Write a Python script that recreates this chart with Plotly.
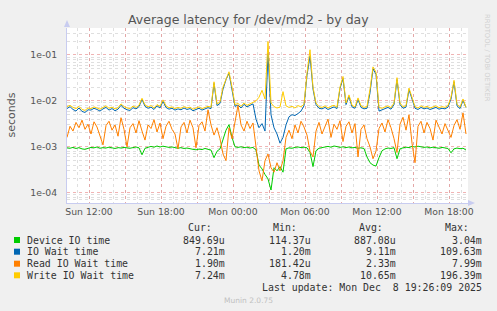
import plotly.graph_objects as go
from datetime import datetime, timedelta

# ---------------- data (milliseconds, 15-minute steps) ----------------
start_time = datetime(2025, 12, 7, 10, 10)
step_minutes = 15

device_ms = [
    0.95, 0.93, 0.97, 0.92, 0.96, 0.90, 0.88, 0.94, 0.97, 0.95,
    0.99, 0.93, 0.96, 0.94, 0.98, 0.95, 0.92, 0.96, 0.94, 0.97,
    0.95, 0.93, 0.96, 0.99, 0.95, 0.67, 0.93, 0.97, 1.02, 0.98,
    1.04, 0.99, 1.03, 1.00, 0.97, 0.99, 0.95, 0.93, 0.96, 0.92,
    0.94, 0.90, 0.88, 0.86, 0.89, 0.87, 0.92, 0.88, 0.85, 0.58,
    0.80, 0.90, 1.40, 2.30, 3.04, 1.60, 1.00, 0.97, 1.00, 0.96,
    0.98, 0.94, 0.97, 0.85, 0.40, 0.33, 0.25, 0.20, 0.11437, 0.35,
    0.30, 0.37, 0.28, 0.90, 0.95, 0.93, 0.97, 0.99, 0.96, 0.98,
    0.95, 0.75, 0.37, 0.82, 0.93, 0.96, 0.99, 1.02, 0.98, 1.04,
    1.01, 0.97, 1.00, 0.96, 0.99, 0.95, 0.97, 0.93, 0.95, 0.92,
    0.60, 0.45, 0.40, 0.38, 0.58, 0.82, 0.90, 0.94, 0.92, 0.96,
    0.55, 0.90, 0.95, 0.98, 0.96, 1.02, 0.99, 1.03, 1.00, 0.97,
    0.99, 0.95, 0.98, 0.96, 0.93, 0.97, 0.95, 0.92, 0.74, 0.90,
    0.94, 0.91, 0.93, 0.8497,
]

iowait_ms = [
    6.8, 7.5, 6.5, 6.0, 7.0, 5.9, 5.6, 6.4, 6.3, 6.9,
    6.5, 6.0, 6.7, 7.2, 6.3, 6.8, 6.1, 6.6, 8.0, 6.9,
    6.4, 6.2, 7.1, 6.7, 7.5, 10.8, 7.6, 6.9, 7.3, 6.5,
    7.8, 7.0, 9.8, 7.2, 6.6, 6.9, 6.3, 6.7, 6.4, 7.0,
    6.5, 6.8, 6.1, 6.5, 6.9, 6.3, 6.6, 7.1, 6.8, 24.0,
    7.9, 8.8, 18.0, 29.0, 40.0, 18.0, 7.6, 8.1, 7.0, 8.4,
    7.4, 8.0, 8.6, 4.0, 2.6, 3.2, 2.2, 109.63, 5.0, 2.6,
    1.9, 1.2, 1.6, 3.0, 4.5, 5.0, 4.8, 5.3, 6.0, 7.8,
    36.0, 95.0, 18.0, 8.3, 6.9, 6.7, 7.2, 6.5, 7.0, 7.4,
    6.8, 18.5, 31.0, 8.3, 12.5, 7.4, 6.9, 10.7, 7.2, 6.7,
    6.9, 15.0, 50.0, 38.0, 6.0, 6.4, 6.9, 7.2, 6.6, 8.3,
    29.0, 8.3, 6.9, 7.3, 17.5, 11.0, 6.9, 6.5, 7.2, 6.7,
    7.0, 6.5, 6.9, 7.2, 6.6, 6.9, 6.7, 7.3, 11.0, 26.0,
    7.8, 6.8, 10.2, 7.21,
]

read_ms = [
    1.6, 2.8, 2.2, 3.4, 2.6, 3.8, 2.4, 3.1, 1.9, 3.5,
    2.7, 1.8, 1.1, 2.9, 3.6, 2.3, 3.0, 1.7, 4.3, 2.4,
    1.0, 2.6, 3.2, 2.0, 3.7, 2.2, 1.4, 3.0, 2.5, 3.9,
    2.1, 3.3, 1.5, 2.8, 3.6, 2.4, 1.9, 0.9, 2.7, 3.4,
    2.0, 3.8, 2.6, 0.95, 2.9, 3.5, 2.2, 6.4, 3.0, 1.8,
    2.6, 1.5, 0.7, 0.5, 2.6, 1.5, 3.2, 7.99, 3.0, 2.2,
    3.6, 2.5, 3.3, 1.0, 0.3, 0.18142, 0.5, 0.7, 0.35, 0.28,
    0.45, 0.3, 0.5, 1.6, 2.3, 1.5, 3.0, 2.0, 3.6, 2.7,
    1.8, 0.8, 0.6, 2.2, 3.4, 1.9, 2.9, 4.0, 1.6, 3.1,
    2.4, 3.7, 1.3, 2.8, 3.5, 2.0, 3.2, 0.6, 2.4, 3.0,
    1.5, 1.0, 0.55, 0.8, 2.5, 3.3, 2.1, 3.9, 2.6, 1.5,
    0.75, 3.1, 4.4, 2.3, 5.0, 1.2, 0.45, 2.8, 3.6, 2.0,
    3.4, 2.5, 1.4, 3.8, 2.7, 1.9, 3.2, 2.3, 1.6, 2.9,
    3.9, 2.4, 5.5, 1.90,
]

write_ms = [
    7.5, 8.0, 7.2, 6.8, 7.6, 6.5, 6.2, 7.0, 6.8, 7.4,
    7.0, 6.6, 7.2, 7.8, 6.9, 7.3, 6.7, 7.1, 8.6, 7.5,
    7.0, 6.8, 7.7, 7.2, 8.0, 11.4, 8.2, 7.4, 7.9, 7.0,
    8.3, 7.6, 10.5, 7.8, 7.1, 7.4, 6.8, 7.2, 6.9, 7.5,
    7.0, 7.3, 6.6, 7.0, 7.4, 6.8, 7.1, 7.6, 7.3, 26.0,
    8.5, 9.5, 20.0, 31.0, 43.0, 20.0, 8.2, 8.8, 7.6, 9.0,
    8.0, 8.6, 9.3, 10.0, 12.0, 17.0, 11.0, 196.39, 9.0, 7.5,
    7.0, 7.3, 15.9, 7.8, 7.2, 7.6, 7.0, 7.9, 7.4, 8.5,
    40.0, 130.0, 20.0, 9.0, 7.5, 7.2, 7.8, 7.0, 7.6, 8.0,
    7.3, 20.0, 34.0, 9.0, 13.5, 8.0, 7.4, 11.6, 7.8, 7.2,
    7.5, 18.0, 55.0, 42.0, 7.2, 6.9, 7.4, 7.8, 7.1, 9.0,
    32.0, 9.0, 7.4, 7.9, 19.0, 12.0, 7.5, 7.0, 7.8, 7.2,
    7.6, 7.0, 7.4, 7.8, 7.1, 7.5, 7.2, 7.9, 12.0, 28.0,
    8.5, 7.3, 11.0, 7.24,
]

series_names = ["Device IO time", "IO Wait time", "Read IO Wait time", "Write IO Wait time"]
series_colors = ["#00CC00", "#0066B3", "#FF8000", "#FFCC00"]
series_data = [device_ms, iowait_ms, read_ms, write_ms]

legend_cur = ["849.69u", "7.21m", "1.90m", "7.24m"]
legend_min = ["114.37u", "1.20m", "181.42u", "4.78m"]
legend_avg = ["887.08u", "9.11m", "2.33m", "10.65m"]
legend_max = ["3.04m", "109.63m", "7.99m", "196.39m"]
column_headers = ["Cur:", "Min:", "Avg:", "Max:"]

y_tick_values = [1e-4, 1e-3, 1e-2, 1e-1]
y_tick_labels = ["1e-04", "1e-03", "1e-02", "1e-01"]

x_label_times = [datetime(2025, 12, 7, 12), datetime(2025, 12, 7, 18), datetime(2025, 12, 8, 0),
                 datetime(2025, 12, 8, 6), datetime(2025, 12, 8, 12), datetime(2025, 12, 8, 18)]
x_label_texts = ["Sun 12:00", "Sun 18:00", "Mon 00:00", "Mon 06:00", "Mon 12:00", "Mon 18:00"]

title_text = "Average latency for /dev/md2 - by day"
last_update_text = "Last update: Mon Dec  8 19:26:09 2025"
footer_text = "Munin 2.0.75"
side_text = "RRDTOOL / TOBI OETIKER"

# ---------------- layout geometry ----------------
W, H = 497, 311
PL, PR, PT, PB = 67, 468, 28, 203


def px(X):
    return (X - PL) / (PR - PL)


def py(Y):
    return (PB - Y) / (PB - PT)


for s in series_data:
    assert len(s) == len(write_ms), [len(a) for a in series_data]

times = [start_time + timedelta(minutes=step_minutes * i) for i in range(len(write_ms))]

fig = go.Figure()
for name, color, vals in zip(series_names, series_colors, series_data):
    fig.add_trace(go.Scatter(
        x=times, y=[v / 1000.0 for v in vals], mode="lines", name=name,
        line=dict(color=color, width=1), showlegend=False, hoverinfo="skip",
    ))

# x grid: major every 3 h (red), minor every hour (gray)
x_start = datetime(2025, 12, 7, 10, 10)
x_end = datetime(2025, 12, 8, 19, 35)
major_x = []
t = datetime(2025, 12, 7, 12)
while t <= x_end:
    major_x.append(t)
    t += timedelta(hours=3)
major_x_text = [x_label_texts[x_label_times.index(m)] if m in x_label_times else "" for m in major_x]
minor_x = []
t = datetime(2025, 12, 7, 11)
while t <= x_end:
    minor_x.append(t)
    t += timedelta(hours=1)

minor_y = [m * 10.0 ** e for e in range(-5, 0) for m in range(2, 10)]

GRID_MAJOR = "rgba(230,130,130,0.6)"
GRID_MINOR = "rgba(185,185,185,0.45)"
TICK_FONT = dict(family="DejaVu Sans", size=9.3, color="#555555")

fig.update_layout(
    width=W, height=H,
    margin=dict(l=PL, r=W - PR, t=PT, b=H - PB, pad=0),
    paper_bgcolor="#F0F0F0", plot_bgcolor="#FFFFFF",
    showlegend=False,
    xaxis=dict(
        type="date", range=[x_start, x_end],
        tickmode="array", tickvals=major_x, ticktext=major_x_text,
        showgrid=True, gridcolor=GRID_MAJOR, griddash="dot", gridwidth=1,
        minor=dict(tickvals=minor_x, showgrid=True, gridcolor=GRID_MINOR, griddash="dot", gridwidth=1),
        ticks="", tickfont=TICK_FONT, zeroline=False,
        showline=True, linecolor="#C8CCF0", linewidth=1,
    ),
    yaxis=dict(
        type="log", range=[-4.224, -0.413],
        tickmode="array", tickvals=y_tick_values, ticktext=y_tick_labels,
        showgrid=True, gridcolor=GRID_MAJOR, griddash="dot", gridwidth=1,
        minor=dict(tickvals=minor_y, showgrid=True, gridcolor=GRID_MINOR, griddash="dot", gridwidth=1),
        ticks="outside", ticklen=7, tickcolor="rgba(0,0,0,0)", tickfont=TICK_FONT, zeroline=False,
        showline=True, linecolor="#C8CCF0", linewidth=1,
    ),
)

shapes = []
# axis arrows
shapes.append(dict(type="path", xref="paper", yref="paper", layer="above",
                   path=f"M {px(64)} {py(27)} L {px(70)} {py(27)} L {px(67)} {py(20)} Z",
                   fillcolor="#C8CCF0", line=dict(width=0)))
shapes.append(dict(type="path", xref="paper", yref="paper", layer="above",
                   path=f"M {px(468)} {py(200)} L {px(468)} {py(206)} L {px(475)} {py(203)} Z",
                   fillcolor="#C8CCF0", line=dict(width=0)))

annotations = []


def add_text(text, X, Y, anchor="left", size=9.9, color="#333333", family="DejaVu Sans Mono", angle=0):
    annotations.append(dict(text=text, x=px(X), y=py(Y), xref="paper", yref="paper",
                            xanchor=anchor, yanchor="middle", showarrow=False, textangle=angle,
                            font=dict(family=family, size=size, color=color), borderpad=0))


add_text(title_text, 248.7, 19, anchor="center", size=12.5, color="#555555", family="DejaVu Sans")
add_text("seconds", 11, 115.5, anchor="center", size=11, color="#555555", family="DejaVu Sans", angle=-90)
add_text(side_text, 487, 58, anchor="center", size=6.8, color="#D0D0D0", family="DejaVu Sans", angle=90)

header_right = [212.7, 298, 384, 470]
value_right = [225.7, 311.7, 397, 483]
row_y = [240, 251.7, 263.7, 275.3]

for hdr, xr in zip(column_headers, header_right):
    add_text(hdr, xr, 227.3, anchor="right")

for k, name in enumerate(series_names):
    yy = row_y[k]
    shapes.append(dict(type="rect", xref="paper", yref="paper",
                       x0=px(14), x1=px(20), y0=py(yy + 3), y1=py(yy - 3),
                       fillcolor=series_colors[k], line=dict(width=0)))
    add_text(name, 26, yy, anchor="left")
    for col, xr in zip([legend_cur, legend_min, legend_avg, legend_max], value_right):
        add_text(col[k], xr, yy, anchor="right")

add_text(last_update_text, 483, 287.3, anchor="right")
add_text(footer_text, 248, 300, anchor="center", size=7.5, color="#C0C0C0", family="DejaVu Sans")

fig.update_layout(shapes=shapes, annotations=annotations)
fig.write_html("out.html")
